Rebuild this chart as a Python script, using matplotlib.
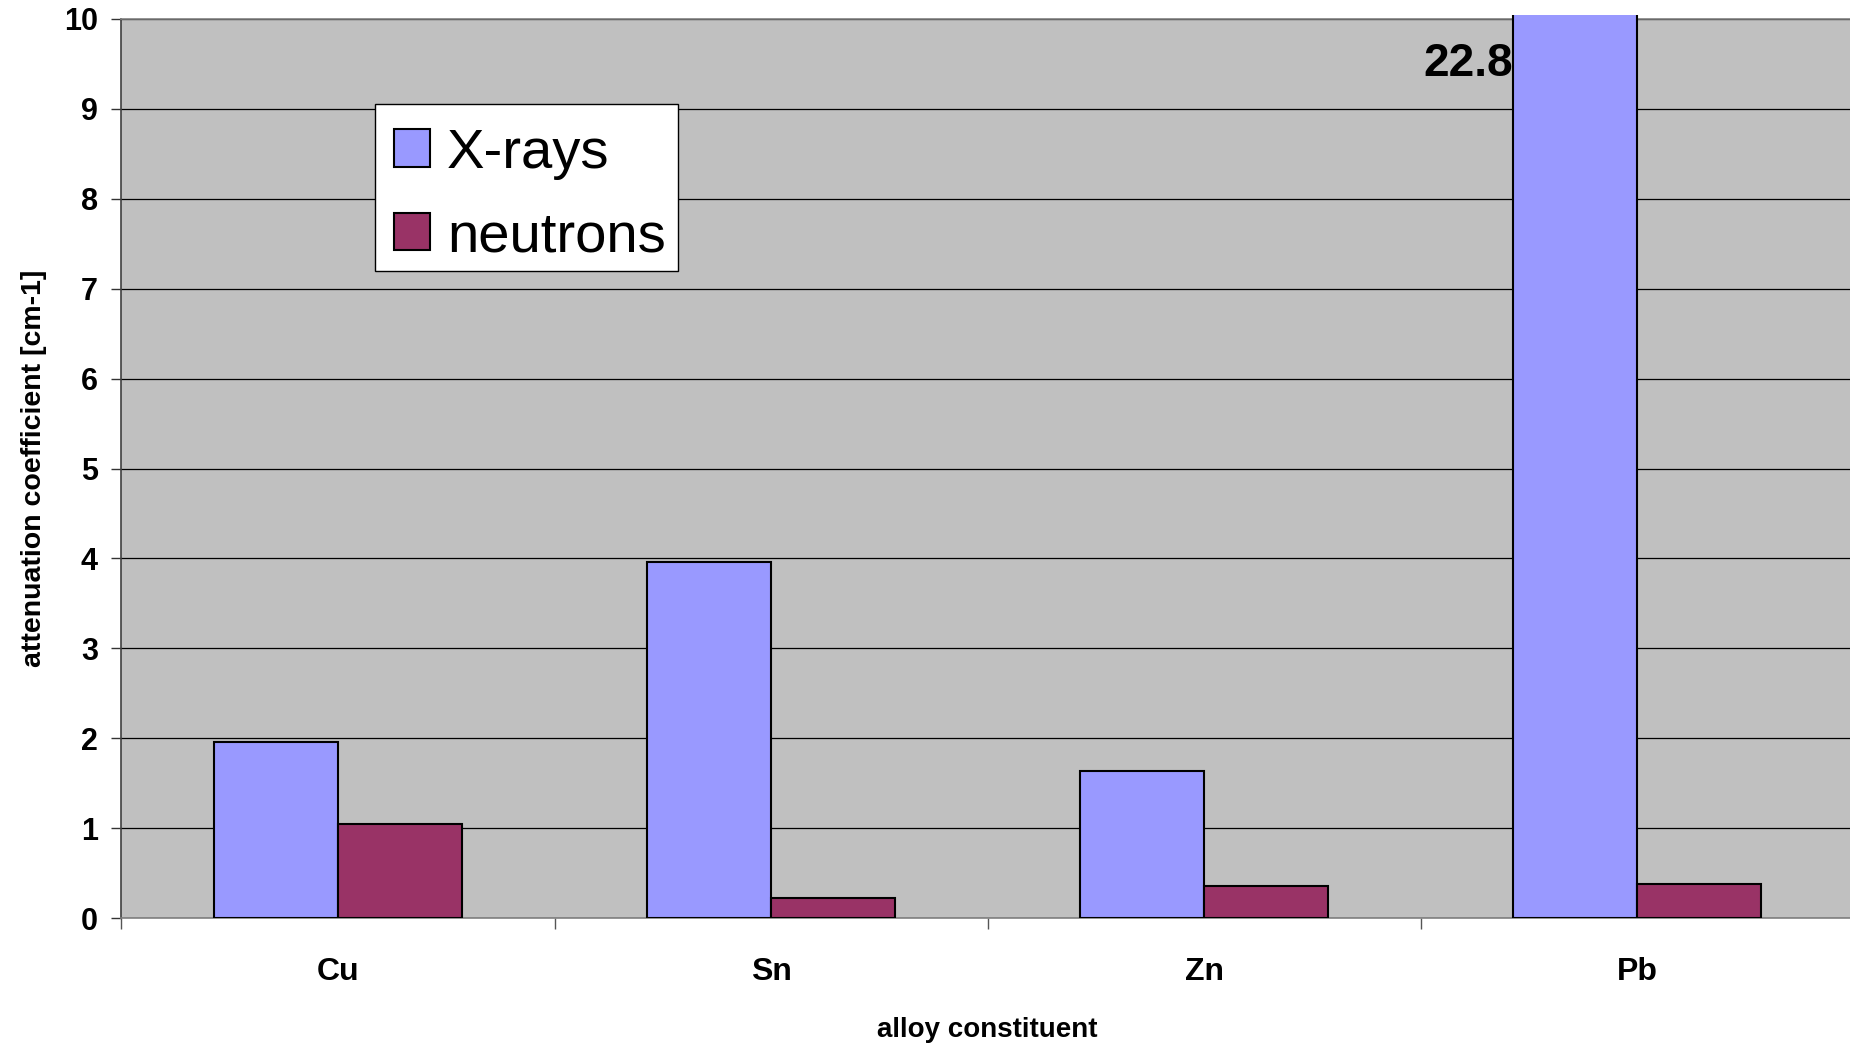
import matplotlib
matplotlib.use("Agg")
import matplotlib.pyplot as plt
import numpy as np
from matplotlib.transforms import Bbox, TransformedBbox
from matplotlib.patches import Rectangle

categories = ["Cu", "Sn", "Zn", "Pb"]
xrays = [1.96, 3.96, 1.63, 22.8]
neutrons = [1.05, 0.22, 0.355, 0.375]
series_names = ["X-rays", "neutrons"]
yticks = [0, 1, 2, 3, 4, 5, 6, 7, 8, 9, 10]

plt.rcParams['font.family'] = ['Liberation Sans', 'DejaVu Sans']

W, H = 1850, 1045
fig = plt.figure(figsize=(18.5, 10.45), dpi=100)
ax = fig.add_axes([121.5 / W, 1 - 918 / H, 1 - 121.5 / W + 0.002, (918 - 19) / H])
ax.set_facecolor("#C0C0C0")

x = np.arange(len(categories))
w = 1 / 3.5
b1 = ax.bar(x - w / 2, xrays, w, color="#9999FF", edgecolor="black", linewidth=1.5, label=series_names[0], zorder=3)
b2 = ax.bar(x + w / 2, neutrons, w, color="#993366", edgecolor="black", linewidth=1.5, label=series_names[1], zorder=3)

clipbb = TransformedBbox(Bbox([[0, 0], [1, 1.005]]), ax.transAxes)
for p in list(b1) + list(b2):
    p.set_clip_box(clipbb)

ax.set_ylim(0, 10)
ax.set_xlim(-0.5, len(categories) - 0.5)
ax.set_yticks(yticks)
ax.set_yticklabels([str(t) for t in yticks], fontsize=22, fontweight="bold")
ax.yaxis.grid(True, color="black", linewidth=0.9)
ax.set_axisbelow(True)

ax.set_xticks(x)
ax.set_xticklabels(categories, fontsize=23, fontweight="bold")
ax.tick_params(axis="x", which="major", length=0, pad=28)
ax.set_xticks(np.arange(len(categories) + 1) - 0.5, minor=True)
ax.tick_params(axis="x", which="minor", length=8, color="#555555", width=1)
ax.tick_params(axis="y", length=7, color="#333333", width=1, pad=10)

for s in ["top", "bottom"]:
    ax.spines[s].set_color("#808080")
    ax.spines[s].set_linewidth(1.2)
ax.spines["left"].set_color("#404040")
ax.spines["left"].set_linewidth(1.2)
ax.spines["right"].set_visible(False)

ax.set_ylabel("attenuation coefficient [cm-1]", fontsize=20.5, fontweight="bold", labelpad=12)
ax.set_xlabel("alloy constituent", fontsize=20, fontweight="bold", labelpad=22)

# value label for the clipped bar
ax.text(x[3] - w - 0.002, 9.5, f"{xrays[3]:.1f}", ha="right", va="center",
        fontsize=33, fontweight="bold", zorder=4)

# legend frame (drawn separately so content can sit a little lower inside it)
frame = Rectangle((375 / W, 1 - 271 / H), (678 - 375) / W, (271 - 104) / H,
                  transform=fig.transFigure, facecolor="white", edgecolor="black",
                  linewidth=1.0, zorder=5)
fig.patches.append(frame)

leg = fig.legend(loc="upper left", bbox_to_anchor=(378 / W, 1 - 112 / H),
                 bbox_transform=fig.transFigure, fontsize=40.5, frameon=False,
                 borderaxespad=0,
                 handlelength=0.65, handleheight=0.65, handletextpad=0.3,
                 labelspacing=0.56, borderpad=0.28)
leg.set_zorder(6)
for h in leg.legend_handles:
    h.set_linewidth(1.5)

fig.savefig("out.png", dpi=100)
